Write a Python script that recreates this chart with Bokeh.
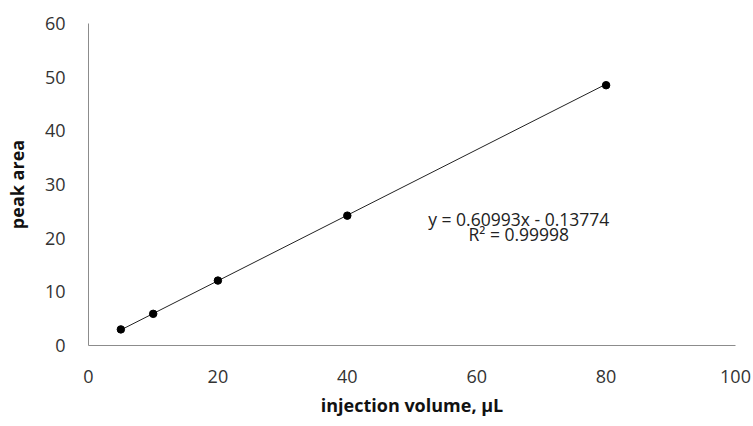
from bokeh.plotting import figure
from bokeh.models import Range1d, Label, FixedTicker
from bokeh.embed import file_html
from bokeh.resources import INLINE

# data
volume_uL = [5, 10, 20, 40, 80]
peak_area = [3.0, 5.9, 12.1, 24.2, 48.5]
trend_x = [5, 80]
trend_y = [2.9, 48.7]
x_ticks = [0, 20, 40, 60, 80, 100]
y_ticks = [0, 10, 20, 30, 40, 50, 60]
eq_lines = ["y = 0.60993x - 0.13774", "R\u00b2 = 0.99998"]
x_title = "injection volume, \u03bcL"
y_title = "peak area"

FONT = "Open Sans"

p = figure(width=753, height=426, output_backend="svg", toolbar_location=None,
           x_range=Range1d(0, 100), y_range=Range1d(0, 60),
           min_border_left=88, min_border_right=18, min_border_top=23, min_border_bottom=81)
p.outline_line_color = None
p.xgrid.grid_line_color = None
p.ygrid.grid_line_color = None
p.background_fill_color = "white"
p.border_fill_color = "white"

p.line(trend_x, trend_y, line_color="#222222", line_width=1)
p.scatter(volume_uL, peak_area, size=7.5, color="black")

for ax, ticks in ((p.xaxis, x_ticks), (p.yaxis, y_ticks)):
    ax.ticker = FixedTicker(ticks=ticks)
    ax.major_tick_line_color = None
    ax.minor_tick_line_color = None
    ax.axis_line_color = "#8c8c8c"
    ax.major_label_text_font = FONT
    ax.major_label_text_font_size = "18px"
    ax.major_label_text_color = "#333333"
    ax.axis_label_text_font = FONT
    ax.axis_label_text_font_style = "bold"
    ax.axis_label_text_font_size = "18px"
    ax.axis_label_text_color = "#111111"

p.xaxis.axis_label = x_title
p.yaxis.axis_label = y_title
p.xaxis.major_label_standoff = 18
p.xaxis.axis_label_standoff = 7
p.yaxis.major_label_standoff = 17
p.yaxis.axis_label_standoff = 13

eq_y = [23.5, 20.7]
for txt, yy in zip(eq_lines, eq_y):
    p.add_layout(Label(x=66.5, y=yy, text=txt, text_align="center", text_baseline="middle",
                       text_font=FONT, text_font_size="17.5px", text_color="#222222"))

open("out.html", "w").write(file_html(p, INLINE))
